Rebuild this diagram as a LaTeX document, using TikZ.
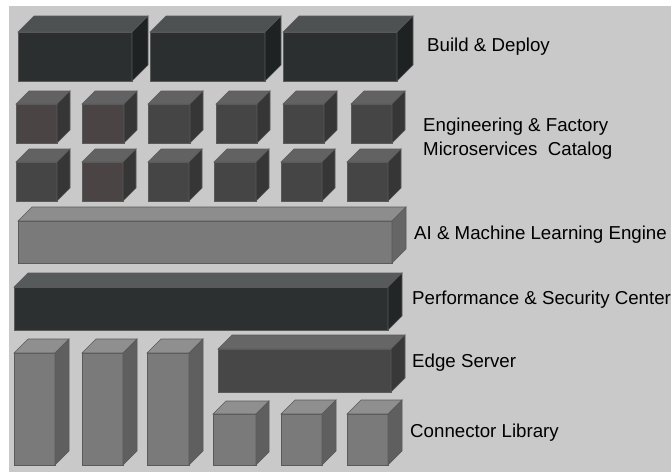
\documentclass[tikz,border=0pt]{standalone}
\usepackage{fontspec}
\setmainfont{Liberation Sans}
\usepackage{tikz}
\usepackage{xcolor}
\usetikzlibrary{calc}

\definecolor{panelgray}{HTML}{C9C9C9}
\definecolor{boxline}{HTML}{5A5A5A}
\definecolor{bdfront}{HTML}{2B2F2F}
\definecolor{bdtop}{HTML}{4D5151}
\definecolor{bdside}{HTML}{1E2222}
\definecolor{msfront}{HTML}{454545}
\definecolor{msbrown}{HTML}{4A4445}
\definecolor{mstop}{HTML}{626262}
\definecolor{msside}{HTML}{363636}
\definecolor{aifront}{HTML}{7A7A7A}
\definecolor{aitop}{HTML}{8D8D8D}
\definecolor{aiside}{HTML}{666666}
\definecolor{pffront}{HTML}{2C3031}
\definecolor{pftop}{HTML}{575A5B}
\definecolor{pfside}{HTML}{222626}
\definecolor{esfront}{HTML}{474747}
\definecolor{estop}{HTML}{666666}
\definecolor{esside}{HTML}{383838}
\definecolor{clfront}{HTML}{7A7A7A}
\definecolor{cltop}{HTML}{8F8F8F}
\definecolor{clside}{HTML}{5F5F5F}

% #1,#2 front top-left, #3,#4 front bottom-right, #5 depth, #6 front, #7 top, #8 side
\newcommand{\drawblock}[8]{%
  \filldraw[fill=#6, draw=boxline, line width=0.6pt] (#1,#2) rectangle (#3,#4);
  \filldraw[fill=#7, draw=boxline, line width=0.6pt] (#1,#2) -- (#1+#5,#2-#5) -- (#3+#5,#2-#5) -- (#3,#2) -- cycle;
  \filldraw[fill=#8, draw=boxline, line width=0.6pt] (#3,#2) -- (#3+#5,#2-#5) -- (#3+#5,#4-#5) -- (#3,#4) -- cycle;
}

\tikzset{
  layerlabel/.style={anchor=west, inner sep=0pt, align=left,
    font=\fontsize{18.7}{24}\selectfont}
}

\begin{document}
\begin{tikzpicture}[x=1pt, y=-1pt]
\useasboundingbox (0,0) rectangle (671,472);
\fill[white] (0,0) rectangle (671,472);
\fill[panelgray] (9,6) rectangle (671,472);

    % build & deploy
    \drawblock{18}{32}{132}{81}{16}{bdfront}{bdtop}{bdside}
    \drawblock{150}{32}{265}{81}{16}{bdfront}{bdtop}{bdside}
    \drawblock{283}{32}{397}{81}{16}{bdfront}{bdtop}{bdside}

    % microservices catalog
    \drawblock{16}{104}{57}{143}{13}{msbrown}{mstop}{msside}
    \drawblock{82}{104}{124}{143}{13}{msbrown}{mstop}{msside}
    \drawblock{148}{104}{190}{143}{13}{msfront}{mstop}{msside}
    \drawblock{216}{104}{257}{143}{13}{msfront}{mstop}{msside}
    \drawblock{283}{104}{324}{143}{13}{msfront}{mstop}{msside}
    \drawblock{351}{104}{392}{143}{13}{msfront}{mstop}{msside}

    \drawblock{16}{162}{57}{201}{13}{msfront}{mstop}{msside}
    \drawblock{82}{162}{123}{201}{13}{msbrown}{mstop}{msside}
    \drawblock{148}{162}{189}{201}{13}{msfront}{mstop}{msside}
    \drawblock{214}{162}{256}{201}{13}{msfront}{mstop}{msside}
    \drawblock{281}{162}{322}{201}{13}{msfront}{mstop}{msside}
    \drawblock{347}{162}{388}{201}{13}{msfront}{mstop}{msside}

    % ai engine
    \drawblock{18}{221}{392}{263}{14}{aifront}{aitop}{aiside}

    % performance & security
    \drawblock{14}{287}{388}{330}{14}{pffront}{pftop}{pfside}

    % tall blocks
    \drawblock{14}{353}{55}{465}{14}{clfront}{cltop}{clside}
    \drawblock{82}{353}{123}{465}{14}{clfront}{cltop}{clside}
    \drawblock{147}{353}{189}{465}{14}{clfront}{cltop}{clside}

    % edge server
    \drawblock{218}{349}{391}{392}{14}{esfront}{estop}{esside}

    % connector library
    \drawblock{213}{414}{256}{465}{13}{clfront}{cltop}{clside}
    \drawblock{281}{414}{322}{465}{14}{clfront}{cltop}{clside}
    \drawblock{347}{414}{388}{465}{14}{clfront}{cltop}{clside}

    \node[layerlabel] (build) at (427, 47) {Build \& Deploy};
    \node[layerlabel] (catalog) at (423, 139) {Engineering \& Factory\\Microservices\ \ Catalog};
    \node[layerlabel] (aiengine) at (414, 235) {AI \& Machine Learning Engine};
    \node[layerlabel] (perfsec) at (412, 300) {Performance \& Security Center};
    \node[layerlabel] (edgeserver) at (412, 363) {Edge Server};
    \node[layerlabel] (connlib) at (410, 433) {Connector Library};

\end{tikzpicture}
\end{document}
